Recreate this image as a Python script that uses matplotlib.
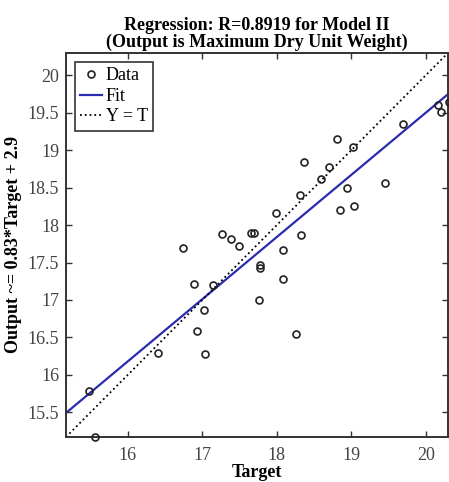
import numpy as np
import matplotlib.pyplot as plt

# targets / outputs
target = [15.48, 15.56, 16.41, 16.74, 16.89, 16.93, 17.02, 17.03, 17.15, 17.26,
          17.38, 17.49, 17.66, 17.69, 17.76, 17.77, 17.77, 17.99, 18.08, 18.08,
          18.26, 18.31, 18.32, 18.37, 18.60, 18.70, 18.81, 18.85, 18.94, 19.02,
          19.04, 19.45, 19.70, 20.16, 20.20, 20.31]
output = [15.78, 15.17, 16.29, 17.69, 17.21, 16.58, 16.86, 16.28, 17.20, 17.88,
          17.82, 17.72, 17.89, 17.90, 17.00, 17.47, 17.42, 18.16, 17.67, 17.28,
          16.55, 18.40, 17.87, 18.84, 18.62, 18.77, 19.15, 18.20, 18.49, 19.04,
          18.26, 18.56, 19.35, 19.60, 19.51, 19.64]

slope = 0.83
intercept = 2.9
lims = [15.17, 20.3]
xticks = [16, 17, 18, 19, 20]
yticks = [15.5, 16, 16.5, 17, 17.5, 18, 18.5, 19, 19.5, 20]

plt.rcParams['font.family'] = ['Liberation Serif', 'DejaVu Serif']

fig = plt.figure(figsize=(4.49, 4.82), dpi=100)
ax = fig.add_axes([0.147, 0.0934, 0.851, 0.797])

ax.plot(target, output, 'o', markersize=5, markerfacecolor='none',
        markeredgecolor='#222222', markeredgewidth=1.2, label='Data',
        clip_on=False, zorder=3)

xs = np.array(lims)
ax.plot(xs, slope * xs + intercept, color='#2b2bb0', linewidth=1.6, label='Fit')
ax.plot(xs, xs, color='black', linestyle=':', linewidth=1.3, label='Y = T')

ax.set_xlim(lims)
ax.set_ylim(lims)
ax.set_xticks(xticks)
ax.set_yticks(yticks)
ax.set_yticklabels([f"{v:g}" for v in yticks])
ax.tick_params(direction='in', length=4, width=1, top=True, right=True,
               labelsize=13, colors='#333333', labelcolor='#444444')
ax.tick_params(axis='x', pad=7)
ax.tick_params(axis='y', pad=5)
for s in ax.spines.values():
    s.set_linewidth(1.4)
    s.set_color('#333333')

ax.set_xlabel('Target', fontsize=13, fontweight='bold', labelpad=0)
ax.set_ylabel('Output ~= 0.83*Target + 2.9', fontsize=13, fontweight='bold', labelpad=4)
ax.set_title('Regression: R=0.8919 for Model II\n(Output is Maximum Dry Unit Weight)',
             fontsize=13, fontweight='bold', linespacing=1.0, pad=4)

leg = ax.legend(loc='upper left', fontsize=13, handlelength=1.2, handletextpad=0.2,
                borderpad=0.3, labelspacing=0.2, borderaxespad=0.5, fancybox=False,
                framealpha=1)
leg.get_frame().set_edgecolor('#333333')
leg.get_frame().set_linewidth(1.2)

fig.savefig('out.png', dpi=100)
